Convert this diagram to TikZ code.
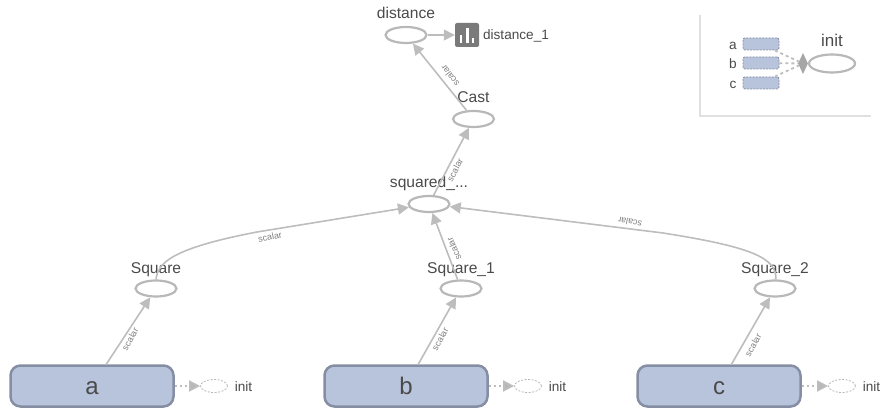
\documentclass[tikz,border=0pt]{standalone}
\usepackage{fontspec}
\setmainfont{Liberation Sans}
\usetikzlibrary{arrows.meta,shapes.geometric}
\definecolor{edgecol}{HTML}{BDBDBD}
\definecolor{opline}{HTML}{B8B8B8}
\definecolor{boxfill}{HTML}{B8C4DC}
\definecolor{boxline}{HTML}{858EA3}
\definecolor{txt}{HTML}{4A4A4A}
\tikzset{
  opnode/.style={ellipse,draw=opline,line width=2.2pt,fill=white,minimum width=41pt,minimum height=16pt,inner sep=0pt},
  ghost/.style={ellipse,draw=opline,dashed,dash pattern=on 2pt off 1.5pt,line width=0.8pt,minimum width=27pt,minimum height=13pt,inner sep=0pt},
  bigbox/.style={rectangle,rounded corners=10pt,draw=boxline,fill=boxfill,line width=2.5pt,minimum width=163pt,minimum height=41pt,inner sep=0pt,text=txt,font=\fontsize{24}{26}\selectfont,text height=17pt,text depth=0pt},
  smallbox/.style={rectangle,rounded corners=2pt,draw=boxline,dashed,dash pattern=on 2pt off 1.2pt,fill=boxfill,line width=0.9pt,minimum width=36pt,minimum height=12pt,inner sep=0pt},
  lab/.style={text=txt,font=\fontsize{15.6}{17}\selectfont,inner sep=0pt,anchor=base},
  lab2/.style={text=txt,font=\fontsize{13.6}{15}\selectfont,inner sep=0pt,anchor=base},
  edgelab/.style={text=gray,font=\fontsize{9}{10}\selectfont,inner sep=0pt},
  flow/.style={draw=edgecol,line width=1.6pt,-{Triangle[length=11pt,width=11pt,fill=edgecol]}},
  ctrl/.style={draw=edgecol,line width=1.8pt,dash pattern=on 2.5pt off 2.5pt,-{Triangle[length=11pt,width=11pt,fill=opline]}},
  ctrlplain/.style={draw=edgecol,line width=1.8pt,dash pattern=on 3pt off 3pt},
}
\begin{document}
\begin{tikzpicture}[x=1pt,y=-1pt]
\useasboundingbox (0,0) rectangle (893,419);
% legend frame
\coordinate (fa) at (700,15);
\coordinate (fb) at (700,116);
\coordinate (fc) at (871,116);
\draw[draw=black!12,line width=2.5pt] (fa) -- (fb) -- (fc);
% main nodes
\node[opnode] (dist) at (406,35) {};
\node[opnode] (cast) at (473.5,119) {};
\node[opnode] (sqd) at (429,204) {};
\node[opnode] (sq0) at (156,288.5) {};
\node[opnode] (sq1) at (461,288.5) {};
\node[opnode] (sq2) at (775,288.5) {};
\node[bigbox] (a) at (92,386) {a};
\node[bigbox] (b) at (406,386) {b};
\node[bigbox] (c) at (719,386) {c};
\node[ghost] (ia) at (214,386) {};
\node[ghost] (ib) at (528,386) {};
\node[ghost] (ic) at (842,386) {};
% summary icon
\node[rectangle,rounded corners=2pt,fill=black!52,minimum size=24pt,inner sep=0pt] (icon) at (467,35) {};
\fill[white] (459.5,35) rectangle (462,43);
\fill[white] (465.5,28) rectangle (468.5,43);
\fill[white] (471.5,38) rectangle (474,43);
% labels
\node[lab] (tdist) at (406,18.5) {distance};
\node[lab2] (tdist1) at (516,40) {distance\_1};
\node[lab] (tcast) at (473.5,103) {Cast};
\node[lab] (tsqd) at (429,188) {squared\_...};
\node[lab] (tsq0) at (156,273) {Square};
\node[lab] (tsq1) at (461,273) {Square\_1};
\node[lab] (tsq2) at (775,273) {Square\_2};
\node[lab2] (tia) at (243.5,391) {init};
\node[lab2] (tib) at (557.5,391) {init};
\node[lab2] (tic) at (871.5,391) {init};
% edges
\draw[flow] (dist) -- (icon);
\draw[flow] (cast) -- (dist);
\draw[flow] (sqd) -- (cast);
\draw[flow] (sq1) -- (sqd);
\draw[flow] (a) -- (sq0);
\draw[flow] (b) -- (sq1);
\draw[flow] (c) -- (sq2);
\draw[flow] (sq0.north) .. controls (158,264) and (168,249) .. (257,232) -- (sqd);
\draw[flow] (sq2.85) .. controls (777,258) and (752,247) .. (663,233) -- (sqd);
\draw[ctrl] (a) -- (ia);
\draw[ctrl] (b) -- (ib);
\draw[ctrl] (c) -- (ic);
% edge labels
\node[edgelab,rotate=60] (e1) at (130,339) {scalar};
\node[edgelab,rotate=60] (e2) at (440,339) {scalar};
\node[edgelab,rotate=60] (e3) at (753,345) {scalar};
\node[edgelab,rotate=113] (e4) at (454,249) {scalar};
\node[edgelab,rotate=12] (e5) at (270,237) {scalar};
\node[edgelab,rotate=169] (e6) at (630,222) {scalar};
\node[edgelab,rotate=62] (e7) at (455,170) {scalar};
\node[edgelab,rotate=128] (e8) at (450,76) {scalar};
% legend
\node[smallbox] (la) at (761,44) {};
\node[smallbox] (lb) at (761,63) {};
\node[smallbox] (lc) at (761,83) {};
\node[lab2] (tla) at (733,49.3) {a};
\node[lab2] (tlb) at (733,68.3) {b};
\node[lab2] (tlc) at (733,88.3) {c};
\node[opnode,minimum width=46pt,minimum height=18pt] (linit) at (832,63.5) {};
\node[text=txt,font=\fontsize{17}{19}\selectfont,inner sep=0pt,anchor=base] (tlinit) at (832,47) {init};
\node[diamond,fill=black!35,minimum width=10pt,minimum height=21pt,inner sep=0pt] (ldia) at (803,63.5) {};
\draw[ctrlplain] (la) -- (ldia);
\draw[ctrlplain] (lb) -- (ldia);
\draw[ctrlplain] (lc) -- (ldia);
\end{tikzpicture}
\end{document}
